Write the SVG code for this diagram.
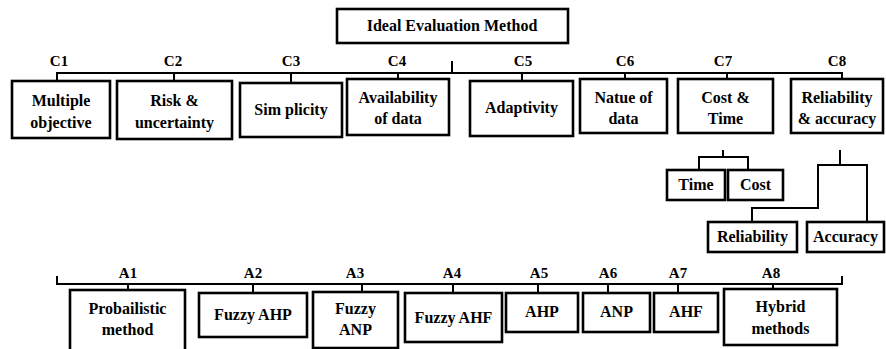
<svg xmlns="http://www.w3.org/2000/svg" width="886" height="349" viewBox="0 0 886 349">
<style>
.box{fill:#fff;stroke:#000;stroke-width:2.6}
.ln{fill:none;stroke:#000;stroke-width:2}
text{font-weight:bold;font-size:15px;fill:#000;text-anchor:middle}
.t{font-size:16px}
</style>
<rect width="886" height="349" fill="#fff"/>
<g id="connectors">
<path class="ln" d="M452 61V73M57 82V73H842V81M174 73V81M291 73V83M398 73V79M522 73V81M625 73V79M727 73V79"/>
<path class="ln" d="M723 150V157M699 170V157H748V170"/>
<path class="ln" d="M840 150V165M752 221V208H818V165H867V221"/>
<path class="ln" d="M57 276V284H842V276M128 284V290M253 284V293M362 284V292M453 284V293M538 284V293M608 284V293M678 284V293M773 284V289"/>
</g>
<g font-family="Liberation Serif, DejaVu Serif, serif">
<g id="root"><rect class="box" x="337" y="9" width="231" height="34"/><text x="452" y="31" class="t">Ideal Evaluation Method</text></g>
<g id="labels-c">
<text x="59" y="66">C1</text><text x="173" y="66">C2</text><text x="291" y="66">C3</text><text x="397" y="66">C4</text>
<text x="523" y="66">C5</text><text x="625" y="66">C6</text><text x="723" y="66">C7</text><text x="837" y="66">C8</text>
</g>
<g id="c1"><rect class="box" x="12" y="81" width="98" height="57"/><text class="t" x="61" y="106">Multiple</text><text class="t" x="61" y="128">objective</text></g>
<g id="c2"><rect class="box" x="117" y="81" width="115" height="58"/><text class="t" x="174.5" y="106">Risk &amp;</text><text class="t" x="174.5" y="128">uncertainty</text></g>
<g id="c3"><rect class="box" x="240" y="83" width="102" height="54"/><text class="t" x="291" y="115">Sim plicity</text></g>
<g id="c4"><rect class="box" x="347" y="79" width="102" height="56"/><text class="t" x="398" y="103">Availability</text><text class="t" x="398" y="124">of data</text></g>
<g id="c5"><rect class="box" x="470" y="81" width="103" height="55"/><text class="t" x="521.5" y="113">Adaptivity</text></g>
<g id="c6"><rect class="box" x="580" y="79" width="87" height="54"/><text class="t" x="623.5" y="103">Natue of</text><text class="t" x="623.5" y="124">data</text></g>
<g id="c7"><rect class="box" x="678" y="79" width="95" height="54"/><text class="t" x="725.5" y="103">Cost &amp;</text><text class="t" x="725.5" y="124">Time</text></g>
<g id="c8"><rect class="box" x="791" y="79" width="92" height="54"/><text class="t" x="837" y="103">Reliability</text><text class="t" x="837" y="124">&amp; accuracy</text></g>
<g id="time"><rect class="box" x="667" y="170" width="58" height="30"/><text class="t" x="696" y="190">Time</text></g>
<g id="cost"><rect class="box" x="728" y="170" width="55" height="30"/><text class="t" x="755.5" y="190">Cost</text></g>
<g id="reliability"><rect class="box" x="708" y="222" width="89" height="30"/><text class="t" x="752.5" y="242">Reliability</text></g>
<g id="accuracy"><rect class="box" x="807" y="222" width="77" height="30"/><text class="t" x="845.5" y="242">Accuracy</text></g>
<g id="labels-a">
<text x="128" y="278">A1</text><text x="253" y="278">A2</text><text x="355" y="278">A3</text><text x="452" y="278">A4</text>
<text x="539" y="278">A5</text><text x="608" y="278">A6</text><text x="678" y="278">A7</text><text x="771" y="278">A8</text>
</g>
<g id="a1"><rect class="box" x="70" y="290" width="115" height="70"/><text class="t" x="127.5" y="314">Probailistic</text><text class="t" x="127.5" y="335">method</text></g>
<g id="a2"><rect class="box" x="199" y="293" width="108" height="44"/><text class="t" x="253" y="320">Fuzzy AHP</text></g>
<g id="a3"><rect class="box" x="313" y="292" width="85" height="56"/><text class="t" x="355.5" y="314">Fuzzy</text><text class="t" x="355.5" y="335">ANP</text></g>
<g id="a4"><rect class="box" x="405" y="293" width="97" height="49"/><text class="t" x="453.5" y="323">Fuzzy AHF</text></g>
<g id="a5"><rect class="box" x="506" y="293" width="72" height="39"/><text class="t" x="542" y="317">AHP</text></g>
<g id="a6"><rect class="box" x="583" y="293" width="67" height="39"/><text class="t" x="616.5" y="317">ANP</text></g>
<g id="a7"><rect class="box" x="654" y="293" width="64" height="39"/><text class="t" x="686" y="317">AHF</text></g>
<g id="a8"><rect class="box" x="724" y="289" width="113" height="56"/><text class="t" x="780.5" y="312">Hybrid</text><text class="t" x="780.5" y="334">methods</text></g>
</g>
</svg>
